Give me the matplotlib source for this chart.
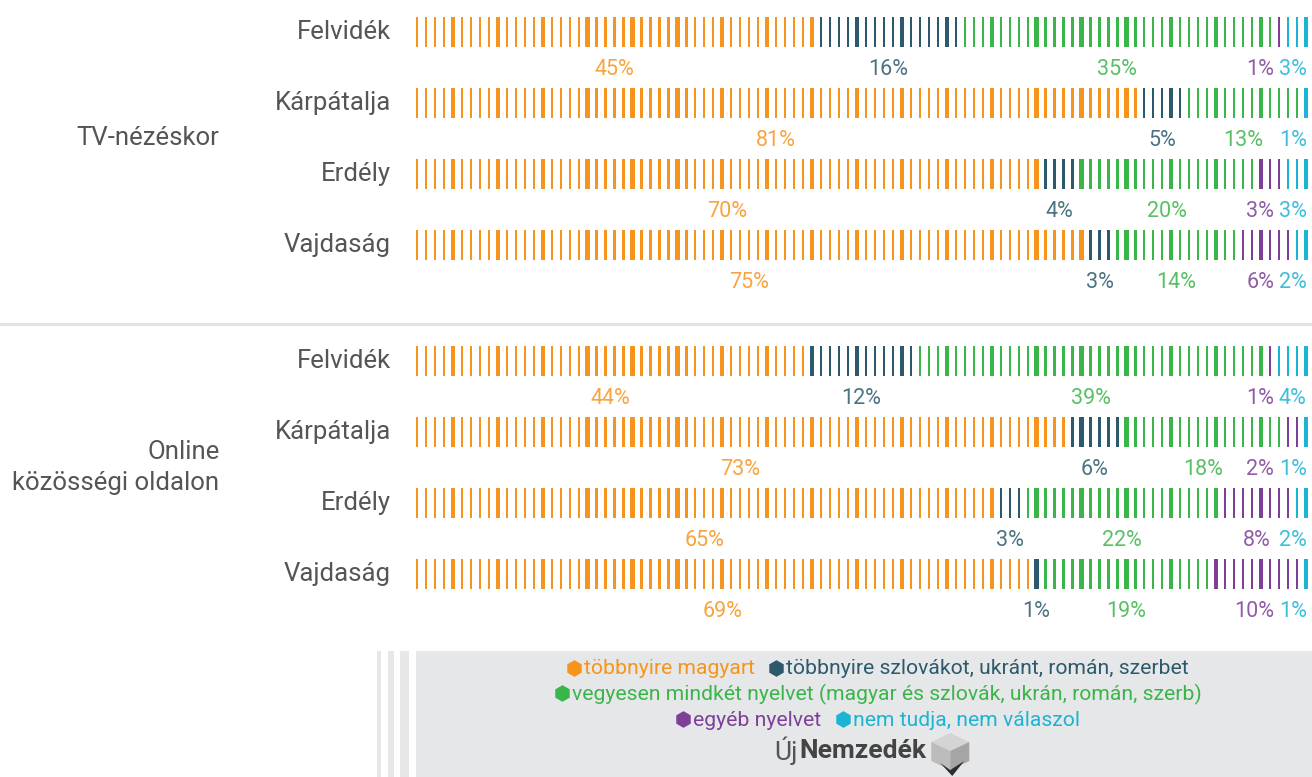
import matplotlib
matplotlib.use("Agg")
import matplotlib.pyplot as plt
from matplotlib.patches import Rectangle, Polygon

# ====================================
# DATA
# ====================================

regions = ["Felvidék", "Kárpátalja", "Erdély", "Vajdaság"]
groups = ["TV-nézéskor", "Online\nközösségi oldalon"]

tv_magyar = [45, 81, 70, 75]
tv_szlovak = [16, 5, 4, 3]
tv_vegyes = [35, 13, 20, 14]
tv_egyeb = [1, 0, 3, 6]
tv_nemtudja = [3, 1, 3, 2]

online_magyar = [44, 73, 65, 69]
online_szlovak = [12, 6, 3, 1]
online_vegyes = [39, 18, 22, 19]
online_egyeb = [1, 2, 8, 10]
online_nemtudja = [4, 1, 2, 1]

categories = ["többnyire magyart",
              "többnyire szlovákot, ukránt, román, szerbet",
              "vegyesen mindkét nyelvet (magyar és szlovák, ukrán, román, szerb)",
              "egyéb nyelvet",
              "nem tudja, nem válaszol"]
colors = ["#F7941D", "#2C5A6C", "#3AB54A", "#7D3F98", "#1CB4D3"]

group_data = [
    [tv_magyar, tv_szlovak, tv_vegyes, tv_egyeb, tv_nemtudja],
    [online_magyar, online_szlovak, online_vegyes, online_egyeb, online_nemtudja],
]

# ====================================
# FIGURE
# ====================================

plt.rcParams['font.family'] = ['Roboto', 'DejaVu Sans']

W, H = 1312, 777
fig = plt.figure(figsize=(W / 100, H / 100), dpi=100)

bg = fig.add_axes([0, 0, 1, 1])
bg.set_xlim(0, W)
bg.set_ylim(H, 0)
bg.axis("off")

# bar axes: x in percent, y in row units (1 unit = 71 px)
px_per_pct = 8.98
ax = fig.add_axes([412.5 / W, 0, 100 * px_per_pct / W, 1])
ax.set_xlim(0, 100)
ax.set_ylim((H - 32) / 71, -32 / 71)
ax.axis("off")

group_gap = 45 / 71
bar_h = 30 / 71
text_gray = "#555555"

pct_texts = []
for g, data in enumerate(group_data):
    for r, region in enumerate(regions):
        y = r + g * (len(regions) + group_gap)
        ax.text(-2.4, y, region, ha="right", va="center", fontsize=18.5,
                color=text_gray, clip_on=False)
        start = 0
        row_texts = []
        for c, series in enumerate(data):
            v = series[r]
            for k in range(v):
                i = start + k
                w = 0.47 if i % 5 == 4 else 0.25
                ax.bar(i + 0.5, bar_h, width=w, bottom=y - bar_h / 2,
                       color=colors[c], linewidth=0)
            if v > 0:
                t = ax.text(start + v / 2, y + 0.53, f"{v}%", ha="center",
                            va="center", fontsize=15.5, color=colors[c], alpha=0.85)
                row_texts.append(t)
            start += v
        pct_texts.append(row_texts)
    gy = g * (len(regions) + group_gap) + (len(regions) - 1) / 2
    ax.text(-21.5, gy, groups[g], ha="right", va="center", fontsize=18.5,
            color=text_gray, clip_on=False, multialignment="right",
            linespacing=1.35)

# keep percentage labels apart and inside the right edge
fig.canvas.draw()
renderer = fig.canvas.get_renderer()
for row_texts in pct_texts:
    limit = 99.6
    for t in reversed(row_texts):
        half = t.get_window_extent(renderer).width / px_per_pct / 2
        cx = min(t.get_position()[0], limit - half)
        t.set_x(cx)
        limit = cx - half - 0.56

# separator
bg.axhline(324, color="#e3e3e3", lw=2.2)

# ====================================
# LEGEND BOX
# ====================================

box_gray = "#e6e7e8"
bg.add_patch(Rectangle((416, 651), W - 416, H - 651, color=box_gray, lw=0))
for x0, w in [(377, 4), (388, 6), (400, 9)]:
    bg.add_patch(Rectangle((x0, 651), w, H - 651, color=box_gray, lw=0))

legend_lines = [[0, 1], [2], [3, 4]]
legend_y = [669, 694, 720]
center_x = 878
fs = 15.2
for line, ly in zip(legend_lines, legend_y):
    items = []
    total = 0
    for n, c in enumerate(line):
        t = bg.text(0, ly, categories[c], fontsize=fs, color=colors[c],
                    ha="left", va="center")
        w = t.get_window_extent(renderer).width
        items.append((t, c, w))
        total += 17 + w
        if n > 0:
            total += 14
    x = center_x - total / 2
    for n, (t, c, w) in enumerate(items):
        if n > 0:
            x += 14
        bg.plot(x + 7, ly - 1, marker="h", markersize=12, color=colors[c],
                markeredgewidth=0)
        t.set_x(x + 17)
        x += 17 + w

# logo
t1 = bg.text(0, 751, "Új", fontsize=19, color="#555555", ha="left", va="center")
t2 = bg.text(0, 751, "Nemzedék", fontsize=19, color="#444444",
             fontweight="bold", ha="left", va="center")
w1 = t1.get_window_extent(renderer).width
w2 = t2.get_window_extent(renderer).width
icon_w = 38
lx = 872 - (w1 + w2 + 6 + icon_w) / 2
t1.set_x(lx)
t2.set_x(lx + w1 + 1)
ix = lx + w1 + w2 + 6
bg.add_patch(Polygon([(ix, 742), (ix + 19, 733), (ix + 38, 742), (ix + 19, 751)],
                     color="#d4d4d4", lw=0))
bg.add_patch(Polygon([(ix, 742), (ix + 19, 751), (ix + 19, 770), (ix, 761)],
                     color="#bcbcbc", lw=0))
bg.add_patch(Polygon([(ix + 19, 751), (ix + 38, 742), (ix + 38, 761), (ix + 19, 770)],
                     color="#a5a5a5", lw=0))
bg.add_patch(Polygon([(ix + 9, 763), (ix + 19, 770), (ix + 33, 761), (ix + 21, 776)],
                     color="#2e2e2e", lw=0))

fig.savefig("out.png", dpi=100)
